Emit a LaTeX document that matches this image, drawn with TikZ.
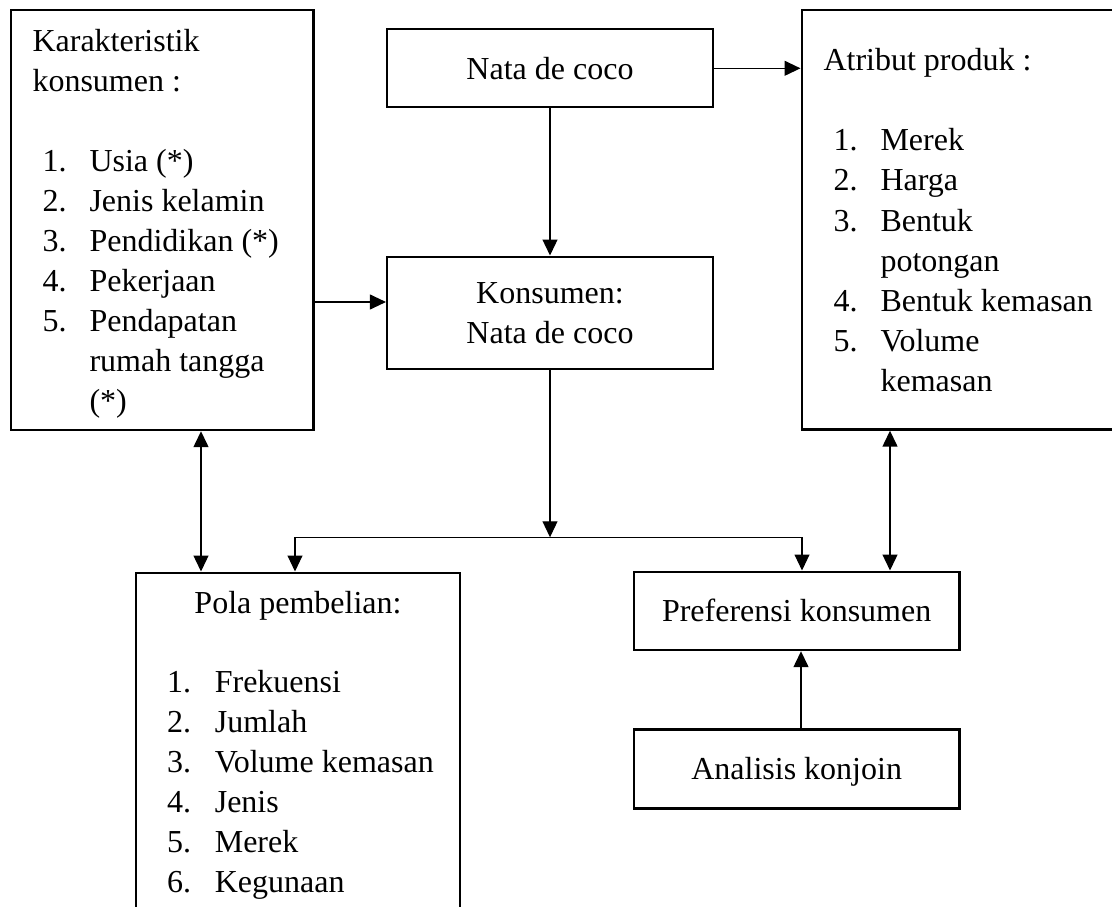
\documentclass[tikz,border=0pt]{standalone}
\usepackage{fontspec}
\setmainfont{Liberation Serif}
\usetikzlibrary{arrows.meta}
\newdimen\pxu
\pxu=0.375pt
\begin{document}
\begin{tikzpicture}[x=0.375pt,y=-0.375pt,
  font=\fontsize{12}{15}\selectfont,
  box/.style={draw,line width=0.9pt,inner sep=0pt,align=center},
  arr/.style={line width=0.6pt,-{Triangle[length=6pt,width=5.6pt]}},
  darr/.style={line width=0.6pt,{Triangle[length=6pt,width=5.6pt]}-{Triangle[length=6pt,width=5.6pt]}},
  thinarr/.style={line width=0.45pt,{Triangle[length=6pt,width=5.6pt]}-{Triangle[length=6pt,width=5.6pt]}},
  txt/.style={inner sep=0pt,anchor=base west}]
\useasboundingbox (0,0) rectangle (1112,906);
\clip (0,0) rectangle (1112,906);
\fill[white] (0,0) rectangle (1112,906);

% boxes
\node[box,minimum width=113.44pt,minimum height=157.5pt] (kar) at (162.25,220) {};
\node[box,minimum width=122.14pt,minimum height=29.25pt] (nata) at (550,68.3) {Nata de coco};
\node[box,minimum width=123pt,minimum height=157.31pt] (atr) at (965.7,219.75) {};
\node[box,minimum width=122.14pt,minimum height=42.11pt] (kon) at (550,312.85) {Konsumen:\\Nata de coco};
\node[box,minimum width=121.5pt,minimum height=137.74pt] (pola) at (298,756.35) {};
\node[box,minimum width=121.99pt,minimum height=29.36pt] (pref) at (796.65,610.85) {Preferensi konsumen};
\node[box,minimum width=121.99pt,minimum height=29.63pt,text depth=0pt] (ana) at (796.65,768.8) {Analisis konjoin};

% box texts
\node[txt] (kartxt) at (32,52) {\begin{tabular}[t]{@{\hspace{10\pxu}}p{47\pxu}@{}l@{}}
\multicolumn{2}{@{}l@{}}{Karakteristik}\\
\multicolumn{2}{@{}l@{}}{konsumen :}\\
\multicolumn{2}{@{}l@{}}{}\\
1. & Usia (*)\\
2. & Jenis kelamin\\
3. & Pendidikan (*)\\
4. & Pekerjaan\\
5. & Pendapatan\\
   & rumah tangga\\
   & (*)
\end{tabular}};

\node[txt] (atrtxt) at (823,71) {\begin{tabular}[t]{@{\hspace{10\pxu}}p{47\pxu}@{}l@{}}
\multicolumn{2}{@{}l@{}}{Atribut produk :}\\
\multicolumn{2}{@{}l@{}}{}\\
1. & Merek\\
2. & Harga\\
3. & Bentuk\\
   & potongan\\
4. & Bentuk kemasan\\
5. & Volume\\
   & kemasan
\end{tabular}};

\node[inner sep=0pt,anchor=base] (polahead) at (298,613) {Pola pembelian:};
\node[txt] (polatxt) at (166.7,692) {\begin{tabular}[t]{@{}p{47.6\pxu}@{}l@{}}
1. & Frekuensi\\
2. & Jumlah\\
3. & Volume kemasan\\
4. & Jenis\\
5. & Merek\\
6. & Kegunaan
\end{tabular}};

% connectors
\coordinate (br) at (550,537.3);
\draw[arr,line width=0.45pt] (kar.east |- 0,302) -- (kon.west |- 0,302);
\draw[arr,line width=0.5pt] (nata.east) -- (atr.west |- nata.east);
\draw[arr] (nata.south) -- (kon.north);
\draw[arr,line width=0.45pt] (kon.south) -- (br);
\draw[thinarr] (pola.north -| 295,0) |- (br) -| (pref.north -| 802,0);
\draw[darr] (kar.south -| 201,0) -- (pola.north -| 201,0);
\draw[darr] (atr.south -| 890,0) -- (pref.north -| 890,0);
\draw[arr] (ana.north -| 801,0) -- (pref.south -| 801,0);
\end{tikzpicture}
\end{document}
